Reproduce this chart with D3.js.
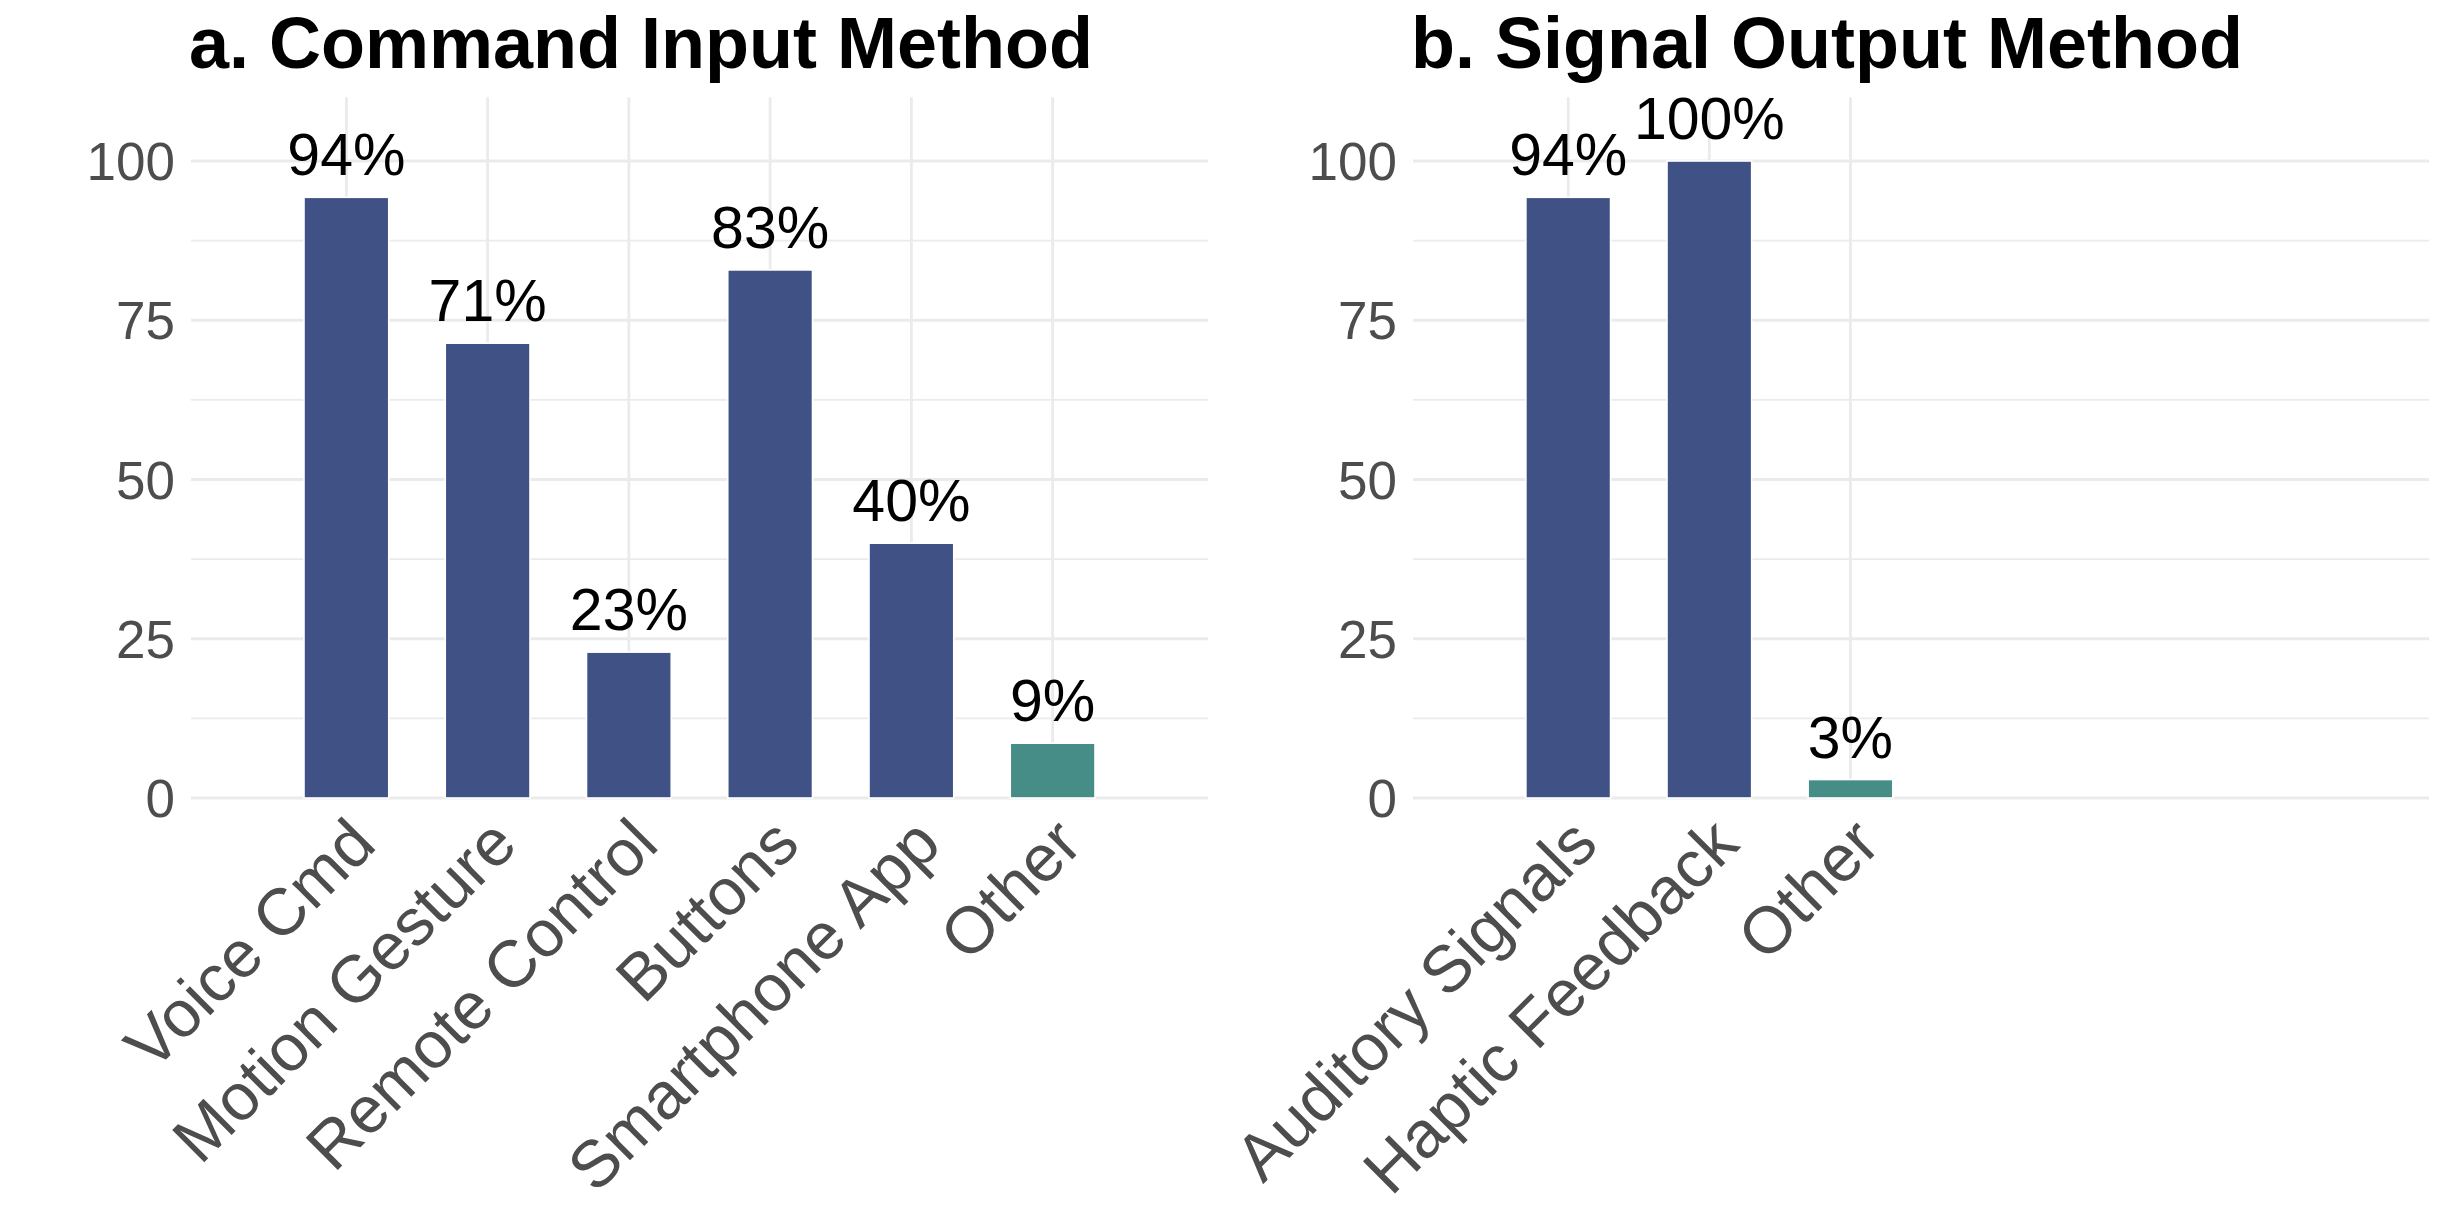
<!DOCTYPE html>
<html>
<head>
<meta charset="utf-8">
<script src="https://cdn.jsdelivr.net/npm/d3@7"></script>
<style>
  html, body { margin: 0; padding: 0; background: #ffffff; }
  svg { display: block; font-family: "Liberation Sans", Arial, Helvetica, sans-serif; }
</style>
</head>
<body>
<script>
// ---- data ----
const inputCategories = ["Voice Cmd", "Motion Gesture", "Remote Control", "Buttons", "Smartphone App", "Other"];
const inputValues = [94.3, 71.4, 22.9, 82.9, 40.0, 8.6];
const outputCategories = ["Auditory Signals", "Haptic Feedback", "Other"];
const outputValues = [94.3, 100, 2.9];
const yTicks = [0, 25, 50, 75, 100];
const yMinorTicks = [12.5, 37.5, 62.5, 87.5];
const panelTitles = ["a. Command Input Method", "b. Signal Output Method"];

// ---- layout ----
const W = 2444, H = 1224;
const colorMain = "#3F5185", colorOther = "#478D87";
const gridColor = "#EBEBEB";

const svg = d3.select("body").append("svg").attr("width", W).attr("height", H);
svg.append("rect").attr("width", W).attr("height", H).attr("fill", "#fff");

const y = d3.scaleLinear().domain([0, 110]).range([798, 97.3]);

function drawPanel(left, right, cats, vals, title) {
  const g = svg.append("g");
  const x = d3.scaleLinear().domain([-1.1, 6.1]).range([left, right]);
  const bw = (x(1) - x(0)) * 0.6;

  // minor grid
  g.selectAll(".ymin").data(yMinorTicks).enter().append("line")
    .attr("x1", left).attr("x2", right)
    .attr("y1", d => y(d)).attr("y2", d => y(d))
    .attr("stroke", gridColor).attr("stroke-width", 1.6);
  // major grid
  g.selectAll(".ymaj").data(yTicks).enter().append("line")
    .attr("x1", left).attr("x2", right)
    .attr("y1", d => y(d)).attr("y2", d => y(d))
    .attr("stroke", gridColor).attr("stroke-width", 2.8);
  g.selectAll(".xmaj").data(cats).enter().append("line")
    .attr("x1", (d, i) => x(i)).attr("x2", (d, i) => x(i))
    .attr("y1", y(110)).attr("y2", y(0))
    .attr("stroke", gridColor).attr("stroke-width", 2.8);

  // bars
  g.selectAll(".bar").data(vals).enter().append("rect")
    .attr("x", (d, i) => x(i) - bw / 2)
    .attr("width", bw)
    .attr("y", d => y(d))
    .attr("height", d => y(0) - y(d))
    .attr("fill", (d, i) => cats[i] === "Other" ? colorOther : colorMain)
    .attr("stroke", "#ffffff").attr("stroke-width", 1.6);

  // value labels
  g.selectAll(".lbl").data(vals).enter().append("text")
    .attr("x", (d, i) => x(i))
    .attr("y", d => y(d) - 22)
    .attr("text-anchor", "middle")
    .attr("font-size", 59)
    .attr("fill", "#000")
    .text(d => Math.round(d) + "%");

  // y tick labels
  g.selectAll(".ytl").data(yTicks).enter().append("text")
    .attr("x", left - 16)
    .attr("y", d => y(d) + 19)
    .attr("text-anchor", "end")
    .attr("font-size", 53)
    .attr("fill", "#4D4D4D")
    .text(d => d);

  // x tick labels
  g.selectAll(".xtl").data(cats).enter().append("text")
    .attr("transform", (d, i) => `translate(${x(i) + 32},847) rotate(-45)`)
    .attr("text-anchor", "end")
    .attr("font-size", 66)
    .attr("fill", "#4D4D4D")
    .text(d => d);

  // title
  g.append("text")
    .attr("x", left - 2)
    .attr("y", 68)
    .attr("font-size", 72)
    .attr("font-weight", "bold")
    .attr("fill", "#000")
    .text(title);
}

drawPanel(191, 1208, inputCategories, inputValues, panelTitles[0]);
drawPanel(1413, 2429, outputCategories, outputValues, panelTitles[1]);
</script>
</body>
</html>
